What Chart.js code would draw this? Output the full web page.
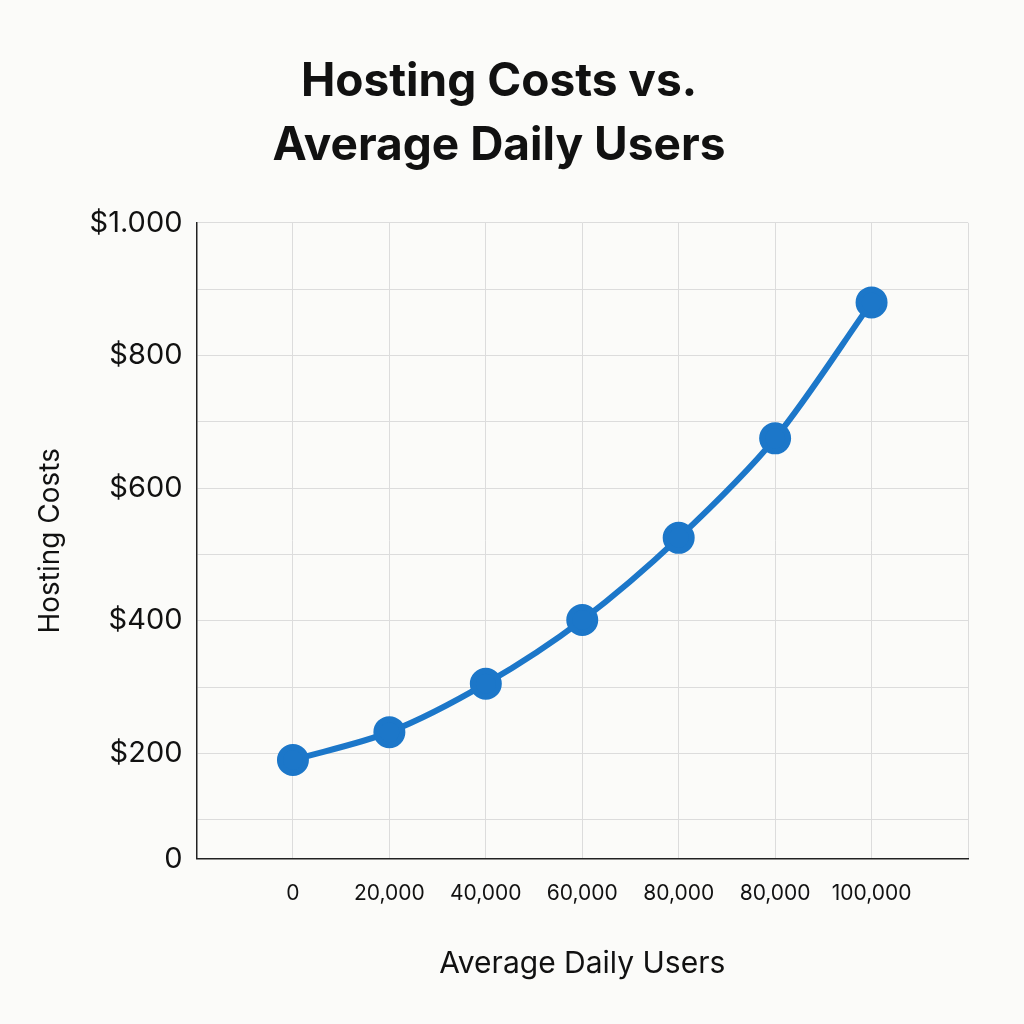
<!DOCTYPE html>
<html>
<head>
<meta charset="utf-8">
<script src="https://cdn.jsdelivr.net/npm/chart.js@4"></script>
<style>
  html, body { margin: 0; background: #fbfbf9; }
  #wrap { width: 1024px; height: 1024px; }
</style>
</head>
<body>
<div id="wrap"><canvas id="myChart"></canvas></div>
<script>
const xLabels = ["0", "20,000", "40,000", "60,000", "80,000", "80,000", "100,000"];
const costs = [190, 232, 305, 401, 525, 675, 880];
const yTickLabels = { 41: "0", 200: "$200", 400: "$400", 600: "$600", 800: "$800", 1000: "$1.000" };

const points = costs.map((v, i) => ({ x: i, y: v }));

const ctx = document.getElementById("myChart").getContext("2d");
new Chart(ctx, {
    type: "line",
    data: {
        datasets: [{
            data: points,
            borderColor: "#1c77c9",
            backgroundColor: "#1c77c9",
            borderWidth: 6,
            pointRadius: 13,
            pointHoverRadius: 13,
            tension: 0.3,
        }],
    },
    options: {
        responsive: true,
        maintainAspectRatio: false,
        animation: false,
        layout: { padding: { left: 30, right: 56, top: 50, bottom: 38 } },
        plugins: {
            legend: { display: false },
            tooltip: { enabled: false },
            title: {
                display: true,
                text: ["Hosting Costs vs.", "Average Daily Users"],
                color: "#111",
                font: { family: "Inter", size: 46, weight: "bold", lineHeight: 1.4 },
                padding: { bottom: 44 },
            },
        },
        scales: {
            x: {
                type: "linear",
                min: -1,
                max: 7,
                afterBuildTicks: (axis) => {
                    axis.ticks = [-1, 0, 1, 2, 3, 4, 5, 6, 7].map(v => ({ value: v }));
                },
                ticks: {
                    color: "#111",
                    font: { family: "Inter", size: 21 },
                    padding: 22,
                    maxRotation: 0,
                    autoSkip: false,
                    callback: (v) => (v >= 0 && v <= 6 ? xLabels[v] : ""),
                },
                grid: { color: "#dcdcdc", drawTicks: false },
                border: { color: "#222", width: 1.5 },
                title: {
                    display: true,
                    text: "Average Daily Users",
                    color: "#111",
                    font: { family: "Inter", size: 30 },
                    padding: { top: 18 },
                },
            },
            y: {
                type: "linear",
                min: 41,
                max: 1000,
                afterBuildTicks: (axis) => {
                    axis.ticks = [41, 100, 200, 300, 400, 500, 600, 700, 800, 900, 1000].map(v => ({ value: v }));
                },
                ticks: {
                    color: "#111",
                    font: { family: "Inter", size: 29 },
                    padding: 14,
                    autoSkip: false,
                    callback: (v) => yTickLabels[v] || "",
                },
                grid: { color: "#dcdcdc", drawTicks: false },
                border: { color: "#222", width: 1.5 },
                title: {
                    display: true,
                    text: "Hosting Costs",
                    color: "#111",
                    font: { family: "Inter", size: 28 },
                    padding: { bottom: 8 },
                },
            },
        },
    },
});
</script>
</body>
</html>
